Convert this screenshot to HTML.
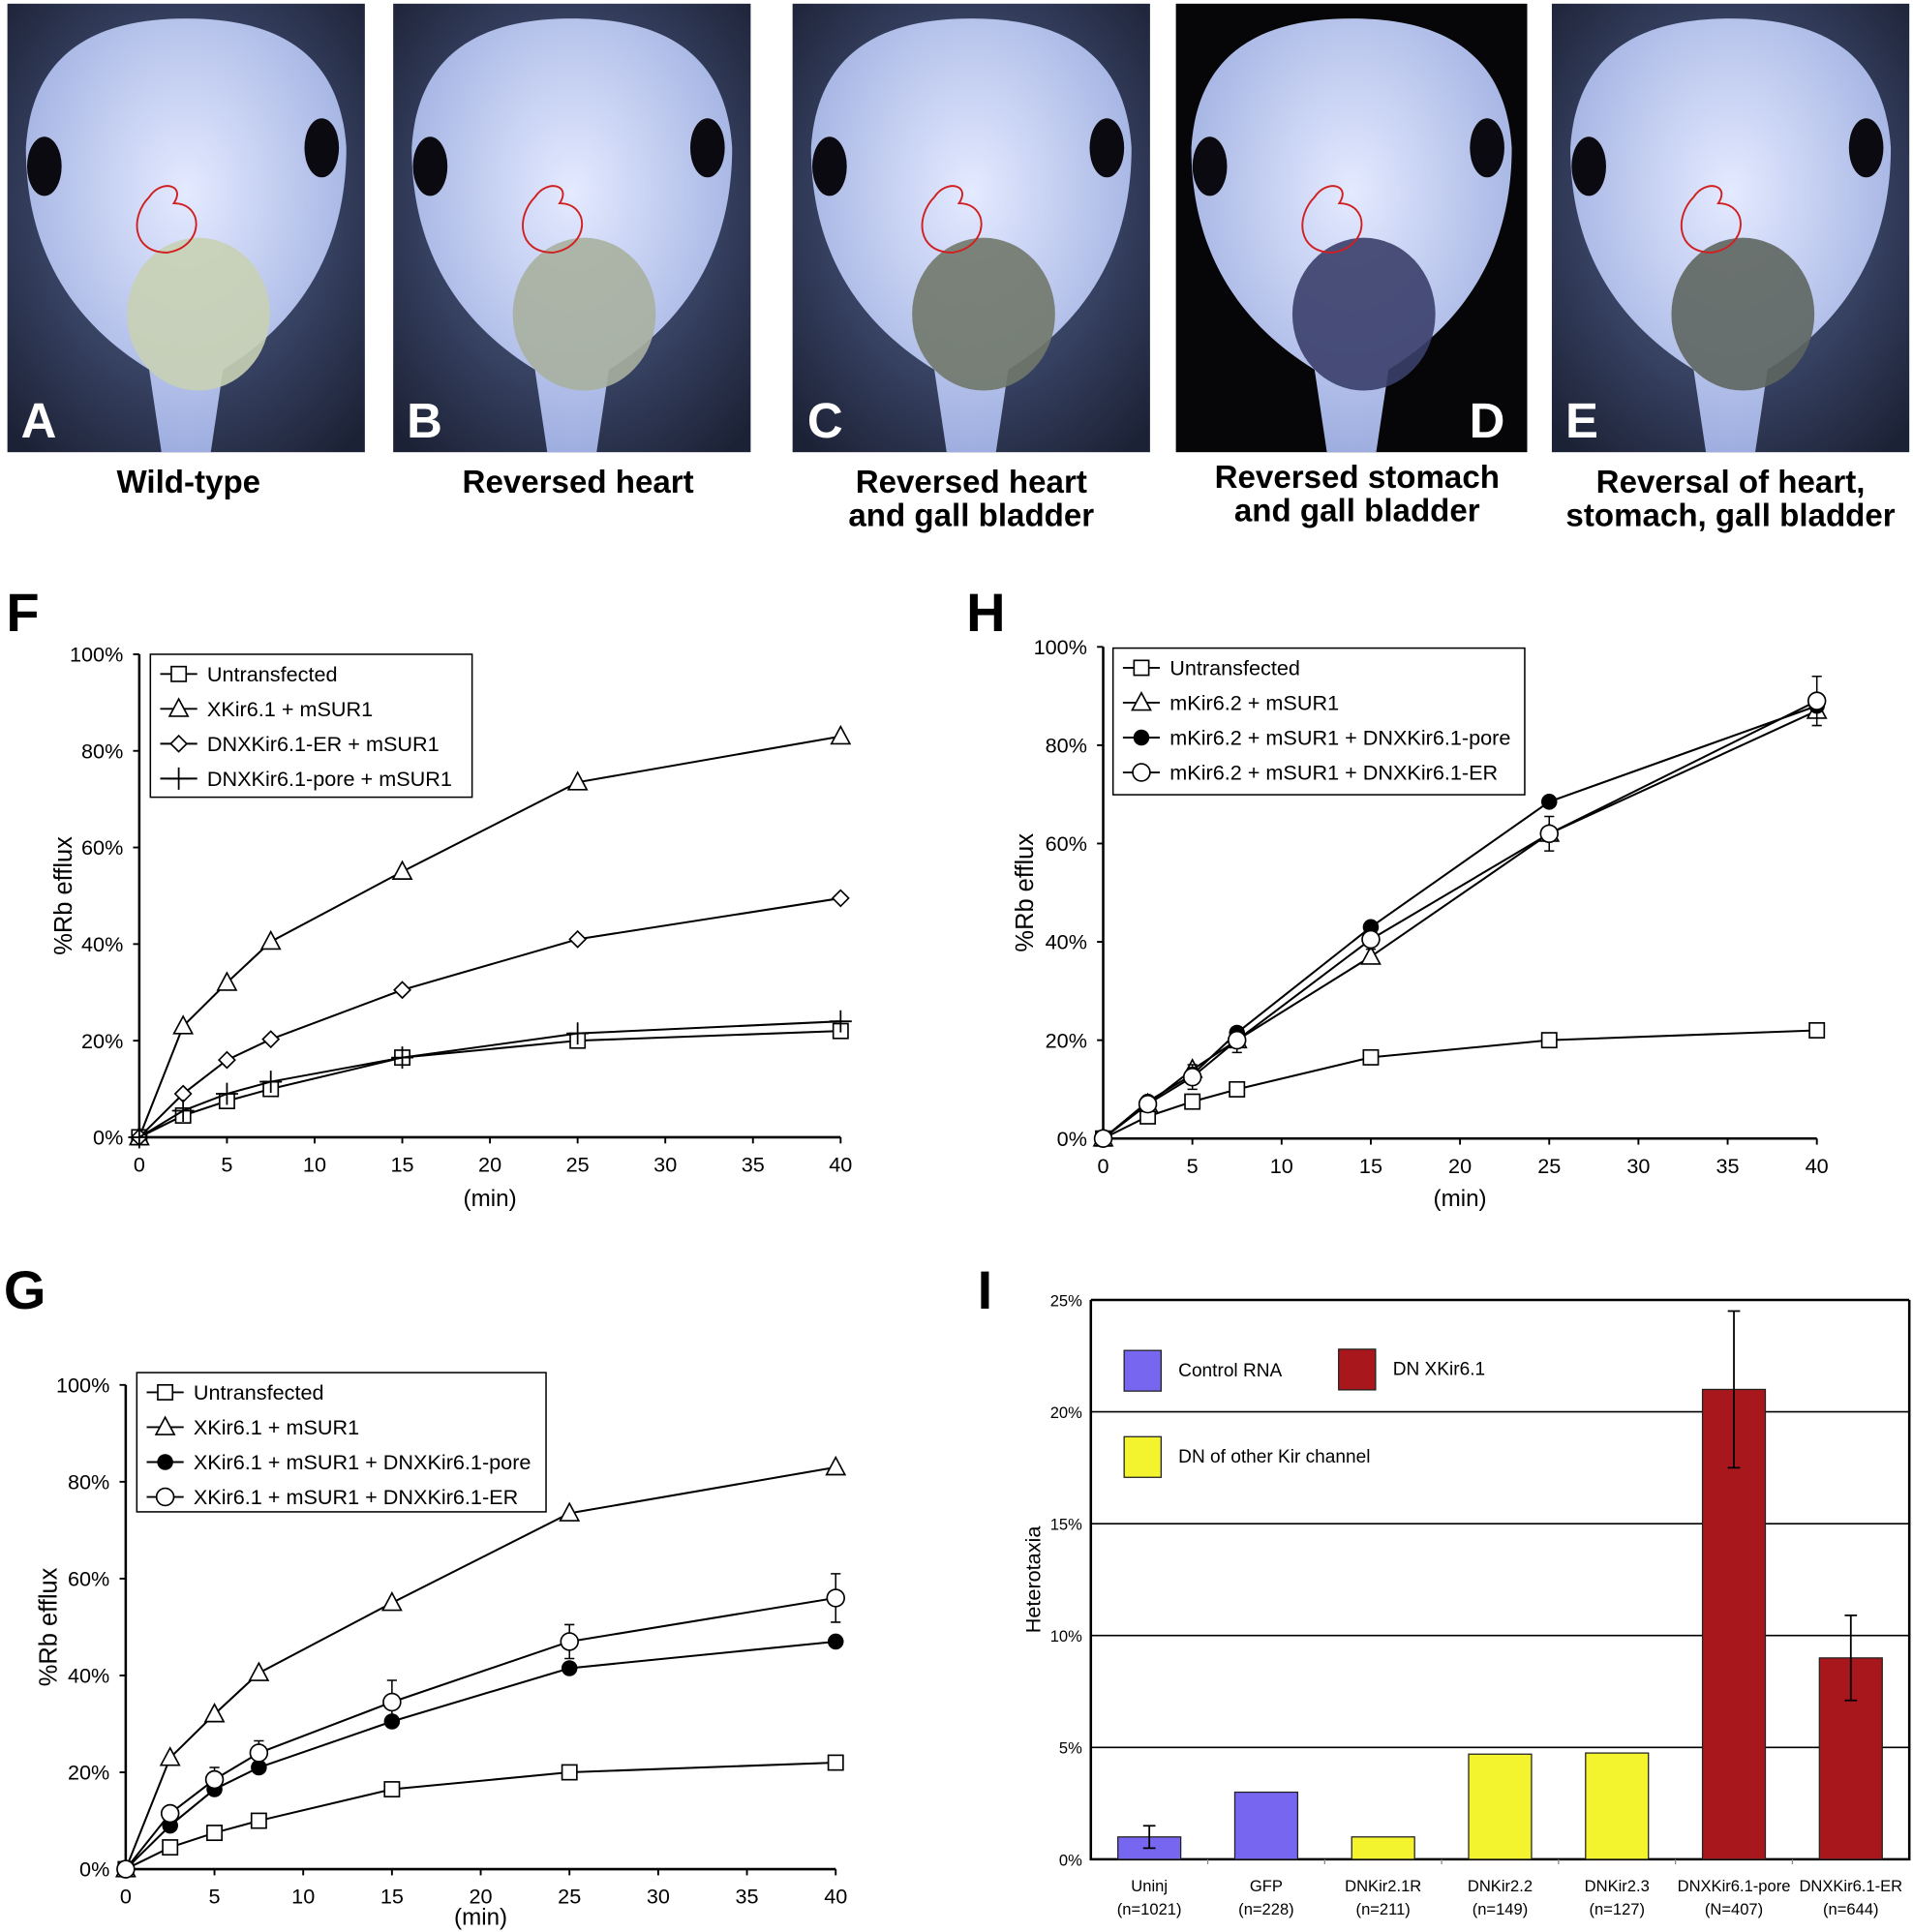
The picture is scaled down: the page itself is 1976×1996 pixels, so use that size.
<!DOCTYPE html>
<html><head><meta charset="utf-8"><style>
html,body{margin:0;padding:0;background:#fff}
svg{display:block;font-family:"Liberation Sans",Arial,sans-serif}
</style></head><body>
<svg id="fig" width="1976" height="1996" viewBox="0 0 1552 1568" preserveAspectRatio="none" xmlns="http://www.w3.org/2000/svg">
<defs>
<radialGradient id="bgG" cx="50%" cy="45%" r="70%"><stop offset="0" stop-color="#5a6a9a"/><stop offset="1" stop-color="#1c2236"/></radialGradient>
<radialGradient id="bodyG" cx="50%" cy="40%" r="60%"><stop offset="0" stop-color="#e4eaff"/><stop offset="1" stop-color="#9eaee0"/></radialGradient>
</defs>
<g id="photos"></g>
<g id="chartF"></g>
<g id="chartH"></g>
<g id="chartG"></g>
<g id="chartI"></g>
</svg>
<script>
// ---------- line chart data ----------
const times = [0, 2.5, 5, 7.5, 15, 25, 40];
const xTicks = [0, 5, 10, 15, 20, 25, 30, 35, 40];
const yTicks = [0, 20, 40, 60, 80, 100];
const fUntrans = [0, 4.5, 7.5, 10, 16.5, 20, 22];
const fXKir = [0, 23, 32, 40.5, 55, 73.5, 83];
const fDnEr = [0, 9, 16, 20.3, 30.5, 41, 49.5];
const fDnPore = [0, 5.5, 9, 11.5, 16.5, 21.5, 24];
const hUntrans = [0, 4.5, 7.5, 10, 16.5, 20, 22];
const hMKir = [0, 7, 14, 20, 37, 62, 87];
const hPore = [0, 7.5, 13, 21.5, 43, 68.5, 88];
const hEr = [0, 7, 12.5, 20, 40.5, 62, 89];
const hErErr = [0, 0, 2.5, 2.5, 2, 3.5, 5];
const gUntrans = [0, 4.5, 7.5, 10, 16.5, 20, 22];
const gXKir = [0, 23, 32, 40.5, 55, 73.5, 83];
const gPore = [0, 9, 16.5, 21, 30.5, 41.5, 47];
const gEr = [0, 11.5, 18.5, 24, 34.5, 47, 56];
const gErErr = [0, 0, 2.5, 2.5, 4.5, 3.5, 5];
// ---------- bar chart data ----------
const barCats = ["Uninj", "GFP", "DNKir2.1R", "DNKir2.2", "DNKir2.3", "DNXKir6.1-pore", "DNXKir6.1-ER"];
const barNs = ["(n=1021)", "(n=228)", "(n=211)", "(n=149)", "(n=127)", "(N=407)", "(n=644)"];
const barVals = [1.0, 3.0, 1.0, 4.7, 4.75, 21, 9];
const barErr = [0.5, 0, 0, 0, 0, 3.5, 1.9];
const barGroup = ["c", "c", "o", "o", "o", "d", "d"];
const barTicks = [0, 5, 10, 15, 20, 25];

const NS = "http://www.w3.org/2000/svg";
function mk(parent, tag, attrs, text) {
  const e = document.createElementNS(NS, tag);
  for (const k in attrs) e.setAttribute(k, attrs[k]);
  if (text !== undefined) e.textContent = text;
  parent.appendChild(e);
  return e;
}
function marker(g, type, x, y) {
  let m;
  if (type === "sq") m = mk(g, "rect", {x: x-6, y: y-6, width: 12, height: 12, fill: "#fff", stroke: "#000", "stroke-width": 1.3});
  else if (type === "tri") m = mk(g, "polygon", {points: `${x},${y-8} ${x-7.5},${y+6} ${x+7.5},${y+6}`, fill: "#fff", stroke: "#000", "stroke-width": 1.3});
  else if (type === "dia") m = mk(g, "polygon", {points: `${x},${y-6.5} ${x+6.5},${y} ${x},${y+6.5} ${x-6.5},${y}`, fill: "#fff", stroke: "#000", "stroke-width": 1.3});
  else if (type === "plus") m = mk(g, "path", {d: `M${x-9},${y}H${x+9}M${x},${y-9}V${y+9}`, stroke: "#000", "stroke-width": 1.4, fill: "none"});
  else if (type === "fc") m = mk(g, "circle", {cx: x, cy: y, r: 6.5, fill: "#000"});
  else m = mk(g, "circle", {cx: x, cy: y, r: 7, fill: "#fff", stroke: "#000", "stroke-width": 1.3});
  
  
  return m;
}

function lineChart(gid, cfg) {
  const g = document.getElementById(gid);
  const X = v => cfg.x0 + (cfg.x1 - cfg.x0) * v / 40;
  const Y = v => cfg.y0 - (cfg.y0 - cfg.y1) * v / 100;
  const lt = mk(g, "text", {x: cfg.letX, y: cfg.letY, "font-size": 44, "font-weight": "bold"}, cfg.letter);
  
  
  const ax = mk(g, "path", {d: `M${cfg.x0},${cfg.y1}V${cfg.y0}H${cfg.x1}`, stroke: "#000", "stroke-width": 2, fill: "none"});
  
  
  yTicks.forEach(t => {
    mk(g, "line", {x1: cfg.x0-5, x2: cfg.x0, y1: Y(t), y2: Y(t), stroke: "#000", "stroke-width": 1.5});
    const tl = mk(g, "text", {x: cfg.x0-13, y: Y(t)+6, "text-anchor": "end", "font-size": 17}, t + "%");
    
    
  });
  xTicks.forEach(t => {
    mk(g, "line", {x1: X(t), x2: X(t), y1: cfg.y0, y2: cfg.y0+5, stroke: "#000", "stroke-width": 1.5});
    const tl = mk(g, "text", {x: X(t), y: cfg.y0+28, "text-anchor": "middle", "font-size": 17}, String(t));
    
    
  });
  const xt = mk(g, "text", {x: (cfg.x0+cfg.x1)/2, y: cfg.xlabY, "text-anchor": "middle", "font-size": 19}, "(min)");
  
  
  const yt = mk(g, "text", {x: 0, y: 0, "text-anchor": "middle", "font-size": 20, transform: `translate(${cfg.ylabX},${(cfg.y0+cfg.y1)/2}) rotate(-90)`}, "%Rb efflux");
  
  
  cfg.series.forEach(s => {
    const sg = mk(g, "g", {});
    
    
    if (s.err) s.vals.forEach((v, i) => {
      if (!s.err[i]) return;
      mk(sg, "path", {d: `M${X(times[i])},${Y(v)}V${Y(v+s.err[i])}M${X(times[i])-4},${Y(v+s.err[i])}H${X(times[i])+4}M${X(times[i])},${Y(v)}V${Y(v-s.err[i])}M${X(times[i])-4},${Y(v-s.err[i])}H${X(times[i])+4}`, stroke: "#000", "stroke-width": 1.2, fill: "none"});
    });
    mk(sg, "polyline", {points: s.vals.map((v, i) => X(times[i]) + "," + Y(v)).join(" "), fill: "none", stroke: "#000", "stroke-width": 1.6});
    s.vals.forEach((v, i) => marker(sg, s.m, X(times[i]), Y(v)));
  });
  const lg = mk(g, "g", {});
  
  
  mk(lg, "rect", {x: cfg.lx, y: cfg.ly, width: cfg.lw, height: cfg.lh, fill: "#fff", stroke: "#000", "stroke-width": 1.2});
  cfg.series.forEach((s, i) => {
    const yy = cfg.ly + 16 + i * 28.3;
    const e = mk(lg, "g", {});
    
    
    mk(e, "line", {x1: cfg.lx+8, x2: cfg.lx+38, y1: yy, y2: yy, stroke: "#000", "stroke-width": 1.5});
    marker(e, s.m, cfg.lx+23, yy);
    mk(e, "text", {x: cfg.lx+46, y: yy+6, "font-size": 17}, s.label);
  });
}

lineChart("chartF", {letter: "F", letX: 5, letY: 512, x0: 113, x1: 682, y0: 923, y1: 531, xlabY: 979, ylabX: 58,
  lx: 122, ly: 531, lw: 261, lh: 116,
  series: [
    {key: "untransfected", m: "sq", vals: fUntrans, label: "Untransfected"},
    {key: "xkir61", m: "tri", vals: fXKir, label: "XKir6.1 + mSUR1"},
    {key: "dn-er", m: "dia", vals: fDnEr, label: "DNXKir6.1-ER + mSUR1"},
    {key: "dn-pore", m: "plus", vals: fDnPore, label: "DNXKir6.1-pore + mSUR1"}]});
lineChart("chartH", {letter: "H", letX: 784, letY: 512, x0: 895, x1: 1474, y0: 924, y1: 525, xlabY: 979, ylabX: 838,
  lx: 903, ly: 526, lw: 334, lh: 119,
  series: [
    {key: "untransfected", m: "sq", vals: hUntrans, label: "Untransfected"},
    {key: "mkir62", m: "tri", vals: hMKir, label: "mKir6.2 + mSUR1"},
    {key: "dn-pore", m: "fc", vals: hPore, label: "mKir6.2 + mSUR1 + DNXKir6.1-pore"},
    {key: "dn-er", m: "oc", vals: hEr, err: hErErr, label: "mKir6.2 + mSUR1 + DNXKir6.1-ER"}]});
lineChart("chartG", {letter: "G", letX: 3, letY: 1062, x0: 102, x1: 678, y0: 1517, y1: 1124, xlabY: 1562, ylabX: 46,
  lx: 111, ly: 1114, lw: 332, lh: 113,
  series: [
    {key: "untransfected", m: "sq", vals: gUntrans, label: "Untransfected"},
    {key: "xkir61", m: "tri", vals: gXKir, label: "XKir6.1 + mSUR1"},
    {key: "dn-pore", m: "fc", vals: gPore, label: "XKir6.1 + mSUR1 + DNXKir6.1-pore"},
    {key: "dn-er", m: "oc", vals: gEr, err: gErErr, label: "XKir6.1 + mSUR1 + DNXKir6.1-ER"}]});

// ---------- bar chart ----------
(function () {
  const g = document.getElementById("chartI");
  const x0 = 885, x1 = 1549, y0 = 1509, y1 = 1055;
  const Y = v => y0 - (y0 - y1) * v / 25;
  const cw = (x1 - x0) / barCats.length;
  const col = {c: "#7766f0", o: "#f4f42e", d: "#a8171b"};
  const lt = mk(g, "text", {x: 793, y: 1062, "font-size": 44, "font-weight": "bold"}, "I");
  
  
  barTicks.forEach(t => {
    if (t > 0) {
      const gl = mk(g, "line", {x1: x0, x2: x1, y1: Y(t), y2: Y(t), stroke: "#000", "stroke-width": t === 25 ? 2 : 1.3});
      
      
    }
    const tl = mk(g, "text", {x: x0-7, y: Y(t)+5, "text-anchor": "end", "font-size": 13}, t + "%");
    
    
  });
  const ax = mk(g, "path", {d: `M${x0},${y1}V${y0}H${x1}V${y1}`, stroke: "#000", "stroke-width": 2, fill: "none"});
  
  
  barCats.forEach((c, i) => {
    const cx = x0 + cw * (i + 0.5), v = barVals[i];
    const b = mk(g, "rect", {x: cx-25.5, y: Y(v), width: 51, height: y0 - Y(v), fill: col[barGroup[i]], stroke: "#222", "stroke-width": 1});
    
    
    if (barErr[i]) {
      const e = barErr[i];
      const eb = mk(g, "path", {d: `M${cx},${Y(v+e)}V${Y(v-e)}M${cx-5},${Y(v+e)}H${cx+5}M${cx-5},${Y(v-e)}H${cx+5}`, stroke: "#000", "stroke-width": 1.4, fill: "none"});
      
      
    }
    const l1 = mk(g, "text", {x: cx, y: 1535, "text-anchor": "middle", "font-size": 13}, c);
    
    
    const l2 = mk(g, "text", {x: cx, y: 1554, "text-anchor": "middle", "font-size": 13}, barNs[i]);
    
    
    if (i > 0) mk(g, "line", {x1: x0 + cw*i, x2: x0 + cw*i, y1: y0, y2: y0+4, stroke: "#888", "stroke-width": 1});
  });
  const yt = mk(g, "text", {x: 0, y: 0, "text-anchor": "middle", "font-size": 17, transform: `translate(844,1282) rotate(-90)`}, "Heterotaxia");
  
  
  [[912, 1096, col.c, "Control RNA"], [1086, 1095, col.d, "DN XKir6.1"], [912, 1166, col.o, "DN of other Kir channel"]].forEach(L => {
    const e = mk(g, "g", {});
    
    
    mk(e, "rect", {x: L[0], y: L[1], width: 30, height: 33, fill: L[2], stroke: "#222", "stroke-width": 1});
    mk(e, "text", {x: L[0]+44, y: L[1]+21, "font-size": 15}, L[3]);
  });
})();

// ---------- photos ----------
(function () {
  const g = document.getElementById("photos");
  const panels = [
    {x: 6, w: 290, L: "A", lx: 17, cap: ["Wild-type"], capX: 153, dark: false, gut: "#c8d0b4"},
    {x: 319, w: 290, L: "B", lx: 330, cap: ["Reversed heart"], capX: 469, dark: false, gut: "#a8b0a0"},
    {x: 643, w: 290, L: "C", lx: 655, cap: ["Reversed heart", "and gall bladder"], capX: 788, dark: false, gut: "#70786a"},
    {x: 954, w: 285, L: "D", lx: 1192, cap: ["Reversed stomach", "and gall bladder"], capX: 1101, dark: true, gut: "#3a3f6a"},
    {x: 1259, w: 290, L: "E", lx: 1270, cap: ["Reversal of heart,", "stomach, gall bladder"], capX: 1404, dark: false, gut: "#5e6660"}];
  panels.forEach(p => {
    const pg = mk(g, "g", {});
    
    
    mk(pg, "rect", {x: p.x, y: 3, width: p.w, height: 364, fill: p.dark ? "#060608" : "url(#bgG)"});
    const cx = p.x + p.w/2;
    mk(pg, "path", {d: `M${cx-20},367 L${cx-30},300 C${cx-95},260 ${cx-130},200 ${cx-130},120 C${cx-125},40 ${cx-70},15 ${cx},15 C${cx+70},15 ${cx+125},40 ${cx+130},120 C${cx+130},200 ${cx+95},260 ${cx+30},300 L${cx+20},367 Z`, fill: "url(#bodyG)"});
    mk(pg, "ellipse", {cx: cx-115, cy: 135, rx: 14, ry: 24, fill: "#0a0a10"});
    mk(pg, "ellipse", {cx: cx+110, cy: 120, rx: 14, ry: 24, fill: "#0a0a10"});
    mk(pg, "ellipse", {cx: cx+10, cy: 255, rx: 58, ry: 62, fill: p.gut, opacity: 0.9});
    mk(pg, "path", {d: `M${cx-30},160 c10,-15 30,-10 20,5 c25,0 25,35 -5,40 c-30,0 -30,-30 -15,-45z`, fill: "none", stroke: "#d02020", "stroke-width": 1.5});
    const lt = mk(pg, "text", {x: p.lx, y: 355, "font-size": 40, "font-weight": "bold", fill: "#fff"}, p.L);
    
    
    p.cap.forEach((c, i) => {
      const t = mk(g, "text", {x: p.capX, y: (p.L === "D" ? 396 : 400) + i*27, "text-anchor": "middle", "font-size": 26, "font-weight": "bold"}, c);
      
      
    });
  });
})();
</script>
</body></html>
